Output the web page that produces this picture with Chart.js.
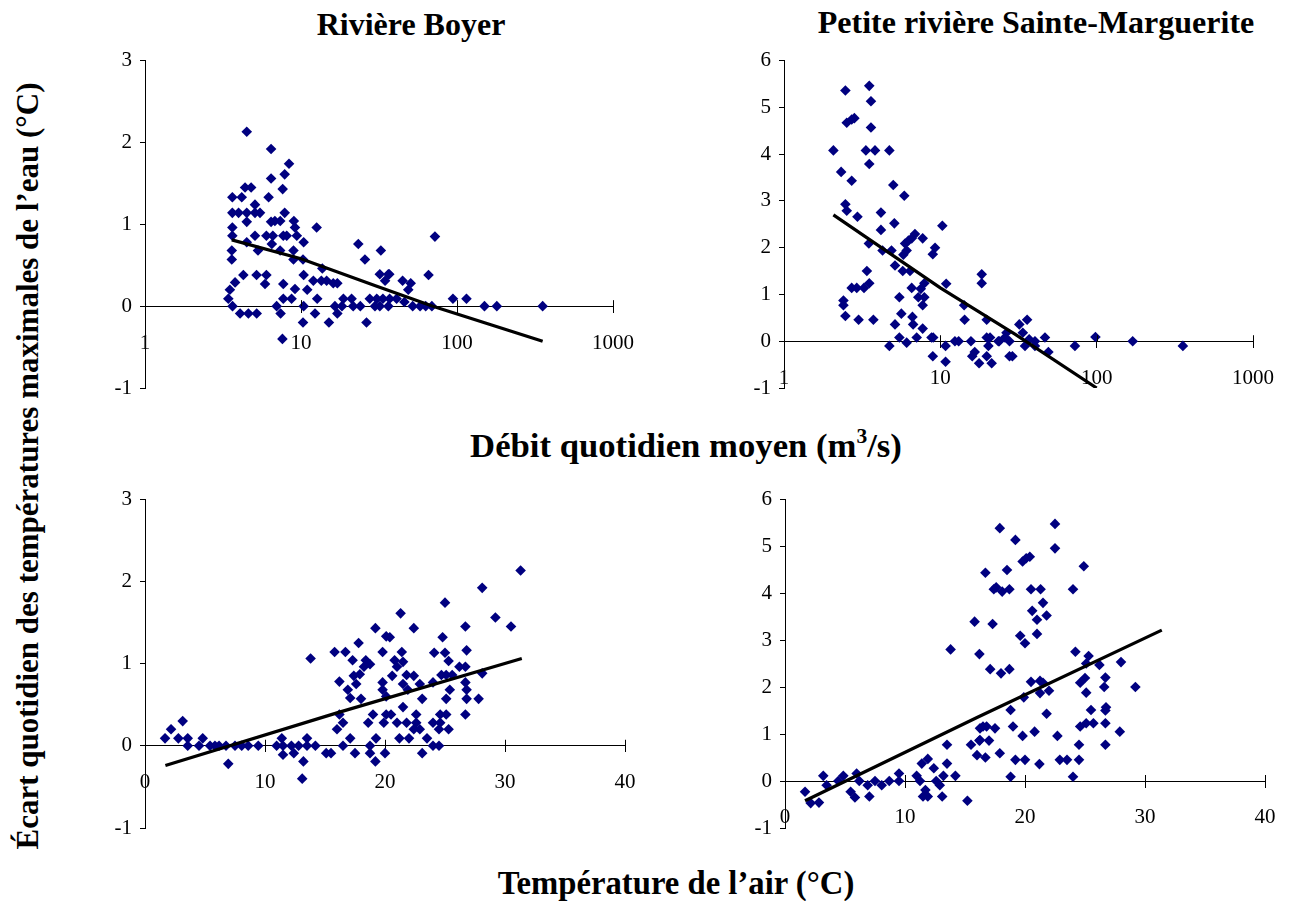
<!DOCTYPE html>
<html><head><meta charset="utf-8">
<script src="https://cdn.jsdelivr.net/npm/chart.js@4.4.1/dist/chart.umd.min.js"></script>
<style>
body{margin:0;background:#fff;width:1295px;height:901px;position:relative;overflow:hidden;font-family:'Liberation Serif','Times New Roman',serif;}
canvas{position:absolute;}
.t{position:absolute;font-weight:bold;font-size:32px;white-space:nowrap;transform:translate(-50%,-50%);color:#000;line-height:1;}
.sup{font-size:0.62em;vertical-align:0.62em;}
</style></head><body>
<div class="t" style="left:411px;top:24px">Rivière Boyer</div>
<div class="t" style="left:1036px;top:22px">Petite rivière Sainte-Marguerite</div>
<div class="t" style="left:686px;top:445px;font-size:34.7px">Débit quotidien moyen (m<span class="sup">3</span>/s)</div>
<div class="t" style="left:676px;top:883px;font-size:32.7px">Température de l’air (°C)</div>
<div class="t" style="left:27px;top:466px;font-size:31px;transform:translate(-50%,-50%) rotate(-90deg)">Écart quotidien des températures maximales de l’eau (°C)</div>
<canvas id="c1" width="580" height="400" style="left:90px;top:40px"></canvas>
<canvas id="c2" width="580" height="400" style="left:730px;top:40px"></canvas>
<canvas id="c3" width="580" height="400" style="left:90px;top:470px"></canvas>
<canvas id="c4" width="580" height="400" style="left:730px;top:470px"></canvas>
<script>
// ---- DATA ----
const logTicks = [1, 10, 100, 1000];
const tempTicks = [0, 10, 20, 30, 40];

// Rivière Boyer : débit (m3/s) vs écart (°C)
const boyerFlow = [[4.49,2.13],[6.43,1.92],[8.38,1.74],[7.86,1.61],[6.43,1.56],[7.63,1.43],[4.38,1.45],[4.79,1.45],[3.63,1.33],[4.17,1.33],[6.2,1.33],[5.07,1.24],[3.63,1.14],[3.98,1.14],[4.49,1.14],[5.07,1.14],[5.46,1.14],[7.86,1.14],[4.49,1.03],[6.43,1.03],[6.8,1.04],[7.36,1.04],[9.0,1.04],[9.15,0.96],[3.63,0.96],[12.6,0.96],[3.63,0.86],[5.07,0.86],[6.0,0.86],[6.6,0.86],[7.7,0.86],[8.1,0.86],[9.4,0.86],[4.49,0.78],[6.5,0.76],[10.4,0.78],[3.6,0.68],[5.3,0.68],[7.35,0.68],[8.95,0.68],[3.6,0.57],[8.95,0.57],[10.3,0.57],[23.3,0.76],[32.5,0.68],[25.7,0.57],[13.7,0.46],[10.4,0.38],[4.27,0.38],[5.19,0.38],[6.0,0.38],[12.0,0.31],[13.5,0.31],[14.6,0.31],[16.1,0.28],[17.1,0.28],[5.88,0.27],[7.7,0.27],[9.15,0.21],[3.78,0.29],[3.5,0.2],[32,0.39],[36.3,0.39],[34.6,0.31],[10.96,0.2],[3.42,0.09],[7.7,0.09],[8.7,0.09],[12.7,0.09],[18.7,0.09],[21.1,0.09],[27.6,0.09],[30.6,0.09],[3.64,0],[6.98,0],[10.4,0],[16.5,0],[18.3,0],[21.6,0],[24.0,0],[29.8,0],[32.0,0],[36.3,0],[4.07,-0.09],[4.6,-0.09],[5.2,-0.09],[7.4,-0.09],[12.3,-0.09],[17.1,-0.09],[10.3,-0.2],[15.1,-0.2],[26.3,-0.2],[7.6,-0.4],[36.8,0.39],[44.8,0.31],[50.5,0.28],[48.7,0.2],[65.7,0.38],[72.2,0.85],[33.5,0.09],[37,0.09],[41,0.09],[46,0.05],[52,0],[58,0],[63,0],[69,0],[94.2,0.09],[115,0.09],[150,0],[180,0],[354,0]];
const boyerFlowTrend = [[3.6,0.81],[10,0.58],[30,0.25],[70,0.0],[354,-0.43]];

// Petite rivière Sainte-Marguerite : débit vs écart
const smFlow = [[2.07,4.08],[2.47,5.36],[2.52,4.67],[2.71,4.74],[2.82,4.77],[2.32,3.62],[2.71,3.43],[2.47,2.93],[2.52,2.79],[2.95,2.66],[3.51,5.46],[3.6,5.13],[3.6,4.57],[3.34,4.08],[3.82,4.08],[3.51,3.79],[4.72,4.08],[5.0,3.34],[5.88,3.11],[4.17,2.75],[4.17,2.38],[5.08,2.52],[3.49,2.09],[4.27,1.94],[4.87,1.94],[5.95,2.09],[6.25,2.15],[6.56,2.2],[6.88,2.29],[6.09,1.94],[5.8,1.85],[7.71,2.2],[9.25,2.0],[8.95,1.86],[10.3,2.47],[10.9,1.23],[5.13,1.62],[5.75,1.5],[6.4,1.5],[3.39,1.5],[7.9,1.24],[7.5,1.12],[3.51,1.24],[3.25,1.14],[2.92,1.14],[2.71,1.14],[6.56,1.14],[7.23,0.94],[7.9,0.94],[7.71,0.77],[5.47,0.94],[2.4,0.87],[2.4,0.77],[2.47,0.54],[3.0,0.46],[3.73,0.46],[5.63,0.59],[6.63,0.52],[6.7,0.36],[5.13,0.36],[7.71,0.27],[14.2,0.77],[14.3,0.46],[18.4,1.43],[18.4,1.24],[19.8,0.46],[5.47,0.08],[7.06,0.08],[8.78,0.08],[9.0,0.08],[6.09,-0.03],[4.72,-0.1],[10.8,-0.1],[12.4,0],[13.1,0],[15.7,0],[19.8,0.08],[20.3,-0.1],[8.95,-0.32],[10.8,-0.44],[16.0,-0.32],[16.6,-0.23],[17.7,-0.47],[19.8,-0.32],[21.3,-0.47],[23.5,0],[20.8,0.08],[23.8,0],[26.5,0.18],[25.9,0.08],[27.7,0],[27.7,-0.32],[28.9,-0.32],[32.0,0.36],[33.7,0.18],[35.9,0.46],[34.8,-0.1],[37.0,0.04],[40.3,0],[40.3,-0.1],[46.7,0.08],[49.1,-0.23],[72.6,-0.1],[98.2,0.09],[170,0],[356,-0.1]];
const smFlowTrend = [[2.07,2.70],[10,1.14],[30,0.15],[100,-1.0]];

// Rivière Boyer : température de l'air vs écart
const boyerAir = [[1.67,0.09],[2.17,0.2],[2.78,0.09],[3.14,0.30],[3.56,0.09],[3.56,0],[4.5,0],[4.81,0.09],[5.42,0],[5.83,0],[6.17,0],[6.75,0],[7.5,0],[8.06,0],[8.6,0],[9.44,0],[6.94,-0.22],[10.97,0],[11.5,0],[12.2,0],[12.8,0],[13.5,0],[14.2,0],[11.4,0.09],[11.5,-0.11],[12.4,-0.09],[13.2,-0.19],[13.5,0.09],[13.1,-0.4],[13.8,1.06],[15.1,-0.09],[15.5,-0.09],[15.8,1.14],[16.7,1.14],[17.8,1.25],[19.2,1.43],[20.1,1.33],[17.3,1.04],[18.4,1.04],[18.75,0.99],[18.25,0.96],[16.2,0.78],[16.9,0.68],[17.1,0.58],[18.0,0.57],[17.6,0.75],[17.4,0.85],[17.9,0.87],[19.8,1.14],[19.8,0.77],[19.8,0.68],[20.1,0.6],[19.0,0.38],[20.1,0.38],[19.9,0.28],[16.2,0.38],[16.5,0.28],[16.0,0.2],[18.6,0.28],[19.25,0.09],[17.1,0.09],[16.5,0],[18.75,0],[17.5,-0.09],[18.75,-0.09],[20.0,-0.09],[19.2,-0.19],[20.4,1.32],[21.3,1.61],[22.4,1.43],[21.4,1.14],[20.8,1.04],[21.5,1.02],[21.0,0.96],[20.6,0.85],[21.8,0.86],[22.4,0.85],[21.5,0.75],[22.9,0.75],[21.9,0.68],[23.1,0.57],[21.5,0.47],[20.5,0.38],[21.0,0.28],[21.8,0.28],[22.6,0.38],[22.6,0.28],[22.4,0.2],[22.9,0.2],[21.2,0.09],[22.0,0.09],[23.5,0.09],[24.0,0.28],[24.6,0.28],[24.5,0.2],[25.3,0.2],[25.1,0.38],[24.6,0.38],[24.0,0],[24.5,0],[23.1,-0.09],[24.0,0.77],[24.7,0.86],[25.1,0.86],[25.6,0.86],[25.4,0.68],[25.1,0.57],[24.1,1.13],[25.0,1.13],[25.3,1.03],[24.8,1.32],[25.0,1.74],[26.2,0.96],[26.7,0.96],[26.8,1.16],[26.7,1.45],[26.7,0.77],[26.8,0.68],[26.8,0.57],[26.7,0.38],[27.8,0.57],[28.1,0.88],[28.1,1.92],[29.2,1.56],[30.5,1.45],[31.3,2.13]];
const boyerAirTrend = [[1.7,-0.24],[16,0.40],[31.4,1.06]];

// Petite rivière Sainte-Marguerite : température de l'air vs écart
const smAir = [[1.67,-0.23],[2.14,-0.47],[2.83,-0.46],[3.19,0.11],[3.47,-0.09],[4.44,0],[4.86,0.11],[5.47,-0.23],[5.83,-0.35],[5.97,0.16],[6.19,0],[6.89,-0.09],[7.03,-0.33],[7.5,0],[8.06,-0.09],[8.69,0],[9.5,0.16],[9.5,0],[10.97,0.11],[11.25,0],[11.4,0.37],[11.9,0.47],[11.7,-0.19],[11.5,-0.33],[11.9,-0.33],[12.4,0.27],[12.6,0],[12.9,-0.09],[13.1,-0.33],[13.2,0.11],[13.5,0.37],[13.5,0.77],[14.2,0.11],[13.8,2.80],[15.2,-0.42],[15.8,3.39],[16.2,2.70],[15.5,0.77],[16.2,0.86],[16.0,0.55],[16.7,0.50],[16.5,1.16],[16.8,1.16],[16.7,4.43],[17.1,2.38],[17.0,0.86],[17.9,5.38],[19.2,5.13],[18.5,4.49],[17.4,4.08],[17.6,4.12],[18.1,4.03],[18.7,4.08],[19.8,4.67],[20.1,4.74],[20.4,4.77],[20.5,4.08],[21.3,4.08],[21.5,3.79],[20.6,3.62],[21.0,3.43],[21.8,3.52],[22.5,5.47],[22.5,4.95],[24.0,4.08],[24.9,4.57],[17.3,3.34],[19.6,3.09],[20.0,2.93],[21.0,3.13],[18.0,2.29],[18.7,2.38],[24.2,2.75],[25.3,2.66],[26.2,2.47],[28.0,2.53],[25.1,2.50],[20.5,2.11],[21.25,2.13],[21.5,2.09],[21.25,1.87],[22.0,1.92],[19.9,1.78],[24.6,2.09],[25.0,2.19],[25.1,1.88],[26.7,2.2],[26.6,2.0],[29.2,2.0],[18.8,1.51],[21.8,1.43],[25.5,1.51],[26.75,1.57],[26.7,1.50],[16.25,1.12],[17.5,1.12],[19.0,1.16],[20.8,1.05],[19.8,0.96],[16.25,0.87],[22.7,0.96],[24.5,0.77],[24.6,1.16],[25.1,1.23],[25.7,1.23],[26.7,1.23],[26.7,0.77],[27.9,1.05],[17.9,0.59],[19.2,0.45],[20.0,0.45],[21.2,0.36],[22.9,0.45],[23.5,0.45],[24.5,0.45],[18.8,0.09],[24.0,0.09]];
const smAirTrend = [[1.67,-0.42],[16,1.35],[31.4,3.21]];

// ---- CHARTS ----
const FONT = "'Liberation Serif','Times New Roman',serif";
const crossTicks = {
  id: 'crossTicks',
  afterDraw(chart) {
    const xs = chart.scales.x, ys = chart.scales.y, ctx = chart.ctx;
    const y0 = ys.getPixelForValue(0);
    ctx.save();
    ctx.strokeStyle = '#000'; ctx.lineWidth = 1;
    xs.ticks.forEach(t => {
      const px = Math.round(xs.getPixelForValue(t.value)) + 0.5;
      ctx.beginPath(); ctx.moveTo(px, y0 - 6); ctx.lineTo(px, y0); ctx.stroke();
    });
    ctx.restore();
  }
};
function toXY(arr) { return arr.map(p => ({x: p[0], y: p[1]})); }
function makeChart(id, pts, trend, isLog, xTicks, yMax, pad, lblPad) {
  const xScale = {
    type: isLog ? 'logarithmic' : 'linear',
    min: xTicks[0], max: xTicks[xTicks.length - 1],
    position: {y: 0},
    afterBuildTicks: s => { s.ticks = xTicks.map(v => ({value: v})); },
    grid: {drawOnChartArea: false, drawTicks: true, tickLength: 6, color: '#000'},
    border: {color: '#000', width: 1},
    ticks: {color: '#000', font: {family: FONT, size: 21}, padding: lblPad, maxRotation: 0, autoSkip: false, callback: v => String(v)}
  };
  new Chart(document.getElementById(id), {
    type: 'scatter',
    data: {datasets: [
      {data: toXY(trend), showLine: true, borderColor: '#000', borderWidth: 3.2, pointRadius: 0, fill: false, order: 0},
      {data: toXY(pts), pointStyle: 'rectRot', pointRadius: 5.3, backgroundColor: '#000080', borderColor: '#000080', borderWidth: 0, order: 1}
    ]},
    options: {
      responsive: false, animation: false, devicePixelRatio: 1,
      layout: {padding: pad},
      plugins: {legend: {display: false}, tooltip: {enabled: false}},
      scales: {
        x: xScale,
        y: {
          type: 'linear', min: -1, max: yMax,
          afterFit: s => { s.width = 45; },
          ticks: {stepSize: 1, color: '#000', font: {family: FONT, size: 21}, padding: 8, callback: v => String(v)},
          grid: {drawOnChartArea: false, tickLength: 5, color: '#000'},
          border: {color: '#000', width: 1}
        }
      }
    },
    plugins: [crossTicks]
  });
}
makeChart('c1', boyerFlow, boyerFlowTrend, true, logTicks, 3, {left: 10, top: 18, right: 57, bottom: 52}, 19);
makeChart('c2', smFlow, smFlowTrend, true, logTicks, 6, {left: 9, top: 18, right: 57, bottom: 52}, 19);
makeChart('c3', boyerAir, boyerAirTrend, false, tempTicks, 3, {left: 10, top: 29, right: 45, bottom: 42}, 18);
makeChart('c4', smAir, smAirTrend, false, tempTicks, 6, {left: 10, top: 29, right: 45, bottom: 42}, 18);
</script>
</body></html>
